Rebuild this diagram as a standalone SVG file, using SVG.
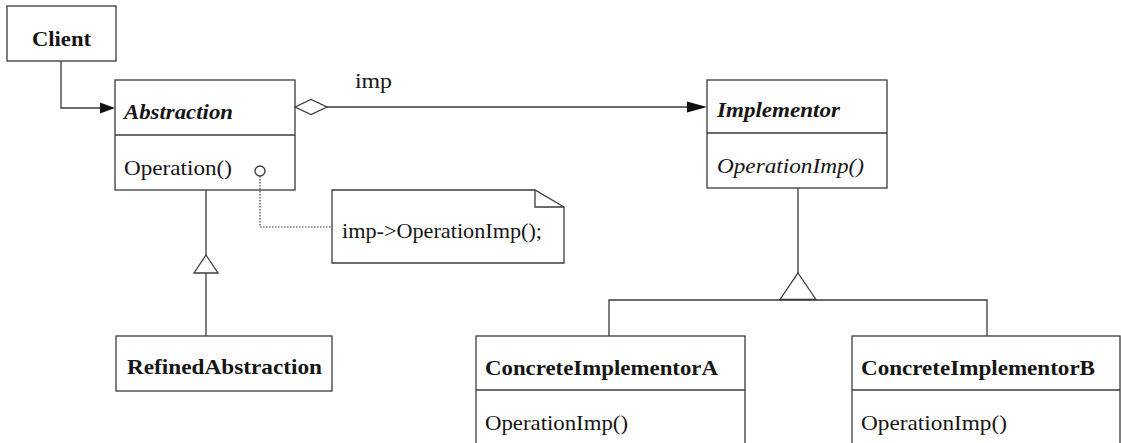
<svg xmlns="http://www.w3.org/2000/svg" width="1121" height="443" viewBox="0 0 1121 443">
  <style>
    .box { fill: #ffffff; stroke: #3a3a3a; stroke-width: 1.3; }
    .line { fill: none; stroke: #3a3a3a; stroke-width: 1.3; }
    .dot { fill: none; stroke: #3a3a3a; stroke-width: 1.2; stroke-dasharray: 1.5 1.5; }
    .hollow { fill: #ffffff; stroke: #3a3a3a; stroke-width: 1.3; }
    .solid { fill: #111111; stroke: none; }
    text { font-family: "Liberation Serif", "Times New Roman", serif; fill: #151515; font-size: 22px; }
    .cls { font-weight: bold; }
    .abs { font-weight: bold; font-style: italic; }
    .ital { font-style: italic; }
  </style>

  <rect width="1121" height="443" fill="#ffffff"/>

  <g id="client">
    <rect class="box" x="7" y="6" width="109" height="55"/>
    <text class="cls" x="32" y="46" textLength="59" lengthAdjust="spacingAndGlyphs">Client</text>
  </g>

  <g id="abstraction">
    <rect class="box" x="115" y="80" width="180" height="110"/>
    <line class="line" x1="115" y1="135" x2="295" y2="135"/>
    <text class="abs" x="124" y="119" textLength="109" lengthAdjust="spacingAndGlyphs">Abstraction</text>
    <text x="124" y="175" textLength="108" lengthAdjust="spacingAndGlyphs">Operation()</text>
  </g>

  <g id="note">
    <path class="box" d="M332,190 H535 L564,207 V263 H332 Z"/>
    <polyline class="line" points="535,190 535,207 564,207"/>
    <text x="342" y="238" textLength="200" lengthAdjust="spacingAndGlyphs">imp-&gt;OperationImp();</text>
  </g>

  <g id="refined-abstraction">
    <rect class="box" x="116" y="336" width="216" height="55"/>
    <text class="cls" x="127" y="374" textLength="195" lengthAdjust="spacingAndGlyphs">RefinedAbstraction</text>
  </g>

  <g id="implementor">
    <rect class="box" x="707" y="80" width="180" height="108"/>
    <line class="line" x1="707" y1="133" x2="887" y2="133"/>
    <text class="abs" x="717" y="117" textLength="123" lengthAdjust="spacingAndGlyphs">Implementor</text>
    <text class="ital" x="717" y="173" textLength="147" lengthAdjust="spacingAndGlyphs">OperationImp()</text>
  </g>

  <g id="concrete-implementor-a">
    <rect class="box" x="476" y="336" width="269" height="130"/>
    <line class="line" x1="476" y1="390" x2="745" y2="390"/>
    <text class="cls" x="485" y="375" textLength="233" lengthAdjust="spacingAndGlyphs">ConcreteImplementorA</text>
    <text x="485" y="430" textLength="143" lengthAdjust="spacingAndGlyphs">OperationImp()</text>
  </g>

  <g id="concrete-implementor-b">
    <rect class="box" x="852" y="336" width="268" height="130"/>
    <line class="line" x1="852" y1="390" x2="1120" y2="390"/>
    <text class="cls" x="861" y="375" textLength="234" lengthAdjust="spacingAndGlyphs">ConcreteImplementorB</text>
    <text x="861" y="430" textLength="146" lengthAdjust="spacingAndGlyphs">OperationImp()</text>
  </g>

  <!-- connectors, drawn over the class boxes -->
  <g id="connectors">
    <!-- Client -> Abstraction -->
    <polyline class="line" points="61,61 61,108 102,108"/>
    <polygon class="solid" points="100,102.5 115,108 100,113.5"/>

    <!-- Abstraction <>- imp -> Implementor -->
    <line class="line" x1="327" y1="107" x2="690" y2="107"/>
    <polygon class="hollow" points="295,107 311,99.5 327,107 311,114.5"/>
    <polygon class="solid" points="687,101.5 707,107 687,112.5"/>
    <text x="355" y="88" textLength="37" lengthAdjust="spacingAndGlyphs">imp</text>

    <!-- note attachment -->
    <polyline class="dot" points="260,176 260,227 332,227"/>
    <circle class="hollow" cx="260" cy="171" r="5"/>

    <!-- RefinedAbstraction inherits Abstraction -->
    <line class="line" x1="206" y1="190" x2="206" y2="255"/>
    <polygon class="hollow" points="206,255 218,273 194,273"/>
    <line class="line" x1="206" y1="273" x2="206" y2="336"/>

    <!-- concrete implementors inherit Implementor -->
    <line class="line" x1="798" y1="188" x2="798" y2="273"/>
    <polygon class="hollow" points="798,273 816,299.5 780,299.5"/>
    <polyline class="line" points="609,336 609,300 987,300 987,336"/>
  </g>
</svg>
